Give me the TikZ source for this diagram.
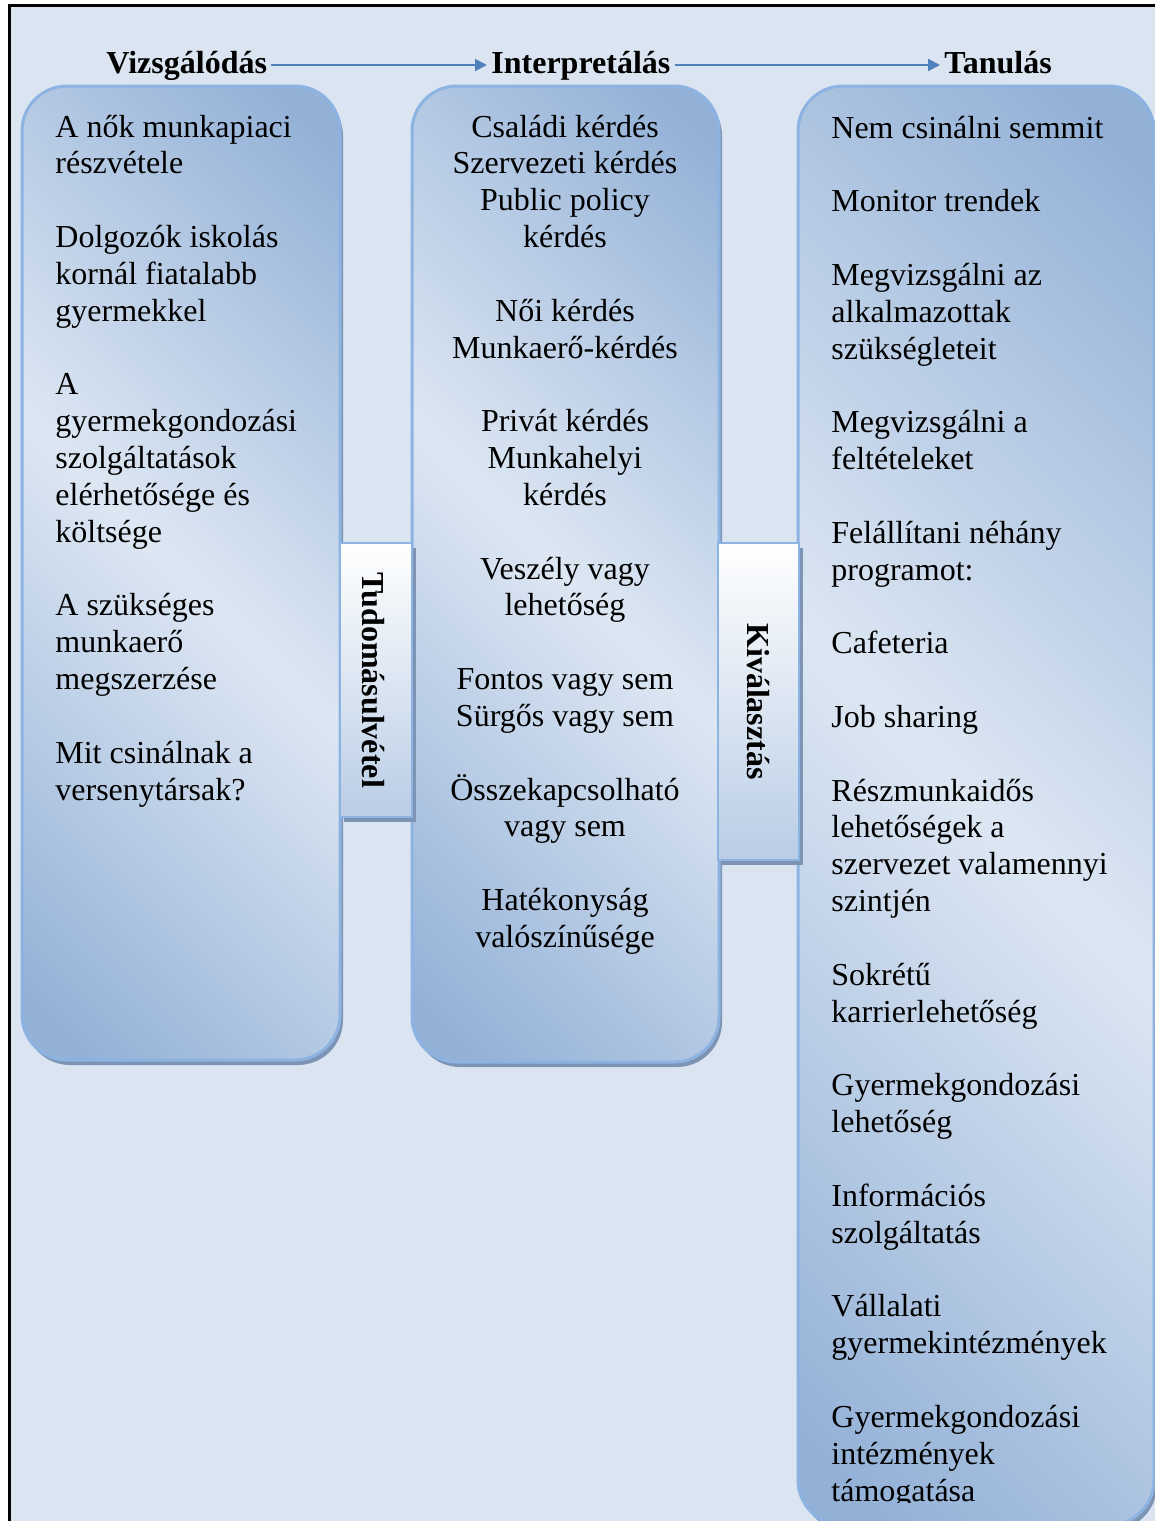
\documentclass[tikz,border=0pt]{standalone}
\usepackage{fontspec}
\setmainfont{Liberation Serif}
\usetikzlibrary{arrows.meta,shadows}
\definecolor{bgblue}{HTML}{DBE5F1}
\definecolor{boxdark}{HTML}{93B1D7}
\definecolor{boxlight}{HTML}{DDE7F3}
\definecolor{boxline}{HTML}{8DB3E2}
\definecolor{shadowc}{HTML}{7E94B4}
\definecolor{arrowc}{HTML}{4F81BD}
\definecolor{tabbot}{HTML}{B9CDE5}
\pgfdeclarehorizontalshading{colgrad}{100bp}{color(0bp)=(boxdark); color(18bp)=(boxdark); color(50bp)=(boxlight); color(82bp)=(boxdark); color(100bp)=(boxdark)}
\tikzset{
  column/.style={shape=rectangle, rounded corners=22.5pt, draw=boxline, line width=1.5pt,
    shade, shading=colgrad, shading angle=45, inner sep=0pt,
    drop shadow={shadow xshift=1.5pt, shadow yshift=-2.5pt, fill=shadowc, opacity=1}},
  tabbox/.style={shape=rectangle, draw=boxline, line width=1pt, top color=white, bottom color=tabbot, inner sep=0pt,
    drop shadow={shadow xshift=2pt, shadow yshift=-2.5pt, fill=shadowc, opacity=1}},
  header/.style={font=\fontsize{16pt}{18.42pt}\selectfont\bfseries, inner sep=2pt, text height=11.5pt, text depth=3.5pt, anchor=base west},
  body/.style={font=\fontsize{16pt}{18.42pt}\selectfont, inner sep=0pt},
  flow/.style={draw=arrowc, line width=1pt, -{Triangle[length=6pt,width=6pt]}},
  vlabel/.style={font=\fontsize{16pt}{18.42pt}\selectfont\bfseries, rotate=-90, inner sep=0pt}
}
\begin{document}
\begin{tikzpicture}[x=0.5pt,y=-0.5pt]
\useasboundingbox (0,0) rectangle (1155,1521);
\clip (0,0) rectangle (1155,1521);
\fill[white] (0,0) rectangle (1155,1521);
\draw[line width=1.5pt, fill=bgblue] (9.5,5.5) rectangle (1180,1550);

% columns
\node[column, minimum width=159pt, minimum height=487pt] (colA) at (181,573) {};
\node[column, minimum width=153.5pt, minimum height=488pt] (colB) at (565.5,574) {};
\node[column, minimum width=178pt, minimum height=719.5pt] (colC) at (976,805.5) {};

% tabs between columns
\node[tabbox, minimum width=36pt, minimum height=137pt] (tabA) at (376,680) {};
\node[tabbox, minimum width=40.5pt, minimum height=158.5pt] (tabB) at (758.5,701.5) {};
\node[vlabel] (tabAlabel) at ([xshift=-1.5pt]tabA.center) {Tudomásulvétel};
\node[vlabel] (tabBlabel) at (tabB.center) {Kiválasztás};

% headers
\node[header] (hA) at (102,73) {Vizsgálódás};
\node[header] (hB) at (487,73) {Interpretálás};
\node[header] (hC) at (940,73) {Tanulás};
\draw[flow] (hA.east) -- (hB.west);
\draw[flow] (hB.east) -- (hC.west);

% texts
\node[body, anchor=base west] (tA) at (55,137) {\parbox[t]{160pt}{\raggedright
A nők munkapiaci\\ részvétele\\[18.42pt]
Dolgozók iskolás\\ kornál fiatalabb\\ gyermekkel\\[18.42pt]
A\\ gyermekgondozási\\ szolgáltatások\\ elérhetősége és\\ költsége\\[18.42pt]
A szükséges\\ munkaerő\\ megszerzése\\[18.42pt]
Mit csinálnak a\\ versenytársak?}};

\node[body, anchor=base] (tB) at (565,137) {\parbox[t]{170pt}{\centering
Családi kérdés\\ Szervezeti kérdés\\ Public policy\\ kérdés\\[18.42pt]
Női kérdés\\ Munkaerő-kérdés\\[18.42pt]
Privát kérdés\\ Munkahelyi\\ kérdés\\[18.42pt]
Veszély vagy\\ lehetőség\\[18.42pt]
Fontos vagy sem\\ Sürgős vagy sem\\[18.42pt]
Összekapcsolható\\ vagy sem\\[18.42pt]
Hatékonyság\\ valószínűsége}};

\begin{scope}
\clip (800,90) rectangle (1150,1502);
\node[body, anchor=base west] (tC) at (831,138) {\parbox[t]{180pt}{\raggedright
Nem csinálni semmit\\[18.42pt]
Monitor trendek\\[18.42pt]
Megvizsgálni az\\ alkalmazottak\\ szükségleteit\\[18.42pt]
Megvizsgálni a\\ feltételeket\\[18.42pt]
Felállítani néhány\\ programot:\\[18.42pt]
Cafeteria\\[18.42pt]
Job sharing\\[18.42pt]
Részmunkaidős\\ lehetőségek a\\ szervezet valamennyi\\ szintjén\\[18.42pt]
Sokrétű\\ karrierlehetőség\\[18.42pt]
Gyermekgondozási\\ lehetőség\\[18.42pt]
Információs\\ szolgáltatás\\[18.42pt]
Vállalati\\ gyermekintézmények\\[18.42pt]
Gyermekgondozási\\ intézmények\\ támogatása}};
\end{scope}
\end{tikzpicture}
\end{document}
